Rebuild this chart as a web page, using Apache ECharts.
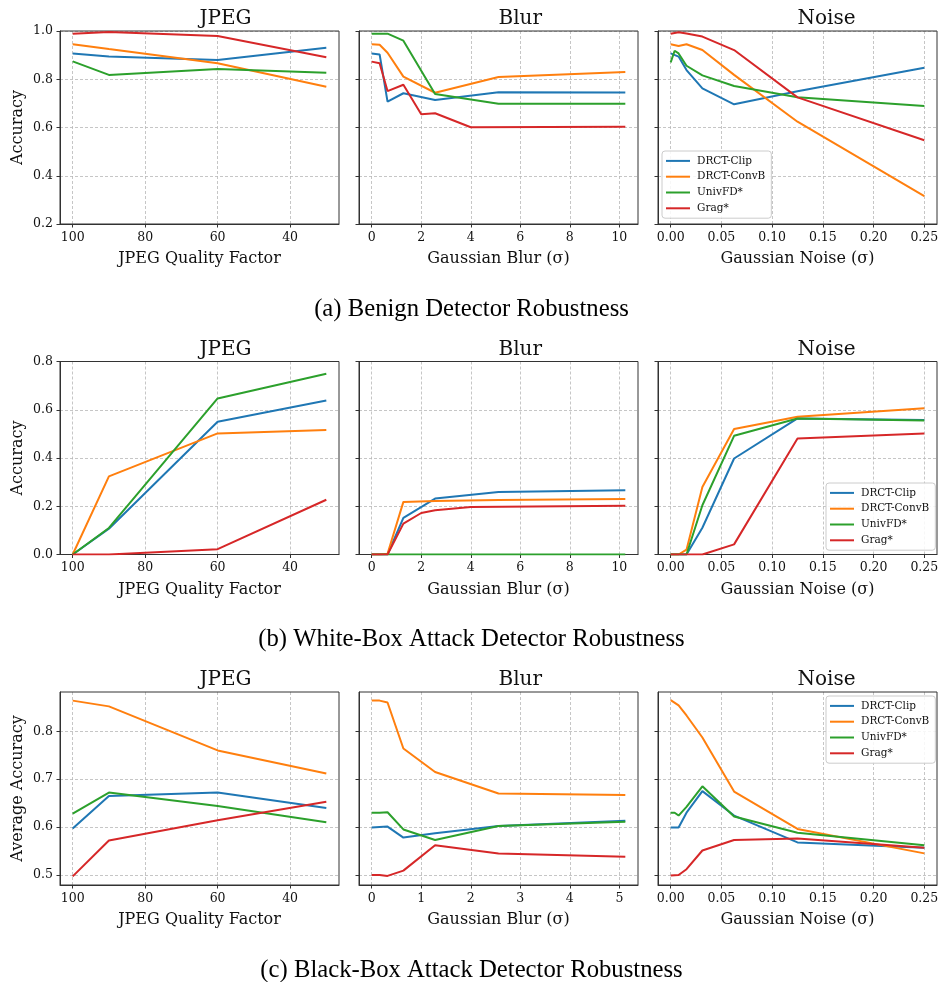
<!DOCTYPE html>
<html>
<head>
<meta charset="utf-8">
<script src="https://cdn.jsdelivr.net/npm/echarts@6/dist/echarts.min.js"></script>
<style>
  body { margin: 0; background: #fff; }
  #chart { width: 943px; height: 982px; }
</style>
</head>
<body>
<div id="chart"></div>
<script>
// detectors, in plotting order
const methods = ['DRCT-Clip', 'DRCT-ConvB', 'UnivFD*', 'Grag*'];
const colors = ['#1f77b4', '#ff7f0e', '#2ca02c', '#d62728'];

// x values of the perturbations
const jpegQuality = [100, 90, 60, 30];
const blurSigmaWide = [0, 0.32, 0.64, 1.28, 2, 2.56, 4, 5.12, 10.24];
const blurSigmaNarrow = [0, 0.16, 0.32, 0.64, 1.28, 2.56, 5.12];
const noiseSigma = [0, 0.0039, 0.0078, 0.0156, 0.03125, 0.0625, 0.125, 0.25];

// tick labels
const jpegTicks = [40, 60, 80, 100];
const blurTicksWide = [0, 2, 4, 6, 8, 10];
const blurTicksNarrow = [0, 1, 2, 3, 4, 5];
const noiseTicks = [0, 0.05, 0.1, 0.15, 0.2, 0.25];
const accTicksA = [0.2, 0.4, 0.6, 0.8, 1.0];
const accTicksB = [0, 0.2, 0.4, 0.6, 0.8];
const accTicksC = [0.5, 0.6, 0.7, 0.8];

// (a) benign
const benignJpeg = [
  [0.907, 0.894, 0.880, 0.931],
  [0.945, 0.925, 0.866, 0.769],
  [0.874, 0.818, 0.842, 0.827],
  [0.989, 0.996, 0.979, 0.891]
];
const benignBlur = [
  [0.907, 0.903, 0.707, 0.742, null, 0.714, null, 0.746, 0.745],
  [0.945, 0.943, 0.910, 0.811, null, 0.744, null, 0.809, 0.830],
  [0.989, 0.989, 0.989, 0.960, null, 0.739, null, 0.698, 0.698],
  [0.873, 0.866, 0.751, 0.777, 0.655, 0.659, 0.601, null, 0.603]
];
const benignNoise = [
  [0.907, null, 0.894, 0.838, 0.762, 0.696, 0.750, 0.848],
  [0.945, null, 0.938, 0.945, 0.921, 0.818, 0.624, 0.316],
  [0.870, 0.918, 0.907, 0.856, 0.816, 0.772, 0.725, 0.689],
  [0.989, null, 0.995, 0.990, 0.977, 0.921, 0.725, 0.547]
];

// (b) white-box attack
const whiteJpeg = [
  [0, 0.107, 0.550, 0.638],
  [0, 0.324, 0.502, 0.516],
  [0, 0.110, 0.647, 0.749],
  [0, 0, 0.022, 0.227]
];
const whiteBlur = [
  [0, 0, 0, 0.152, null, 0.232, null, 0.259, 0.266],
  [0, 0, 0.003, 0.218, null, 0.222, null, 0.226, 0.230],
  [0, 0, 0, 0, null, 0, null, 0, 0],
  [0, 0, 0, 0.128, 0.172, 0.183, 0.197, null, 0.202]
];
const whiteNoise = [
  [0, null, 0, 0, 0.111, 0.398, 0.564, 0.557],
  [0, null, 0, 0.020, 0.280, 0.520, 0.571, 0.606],
  [0, null, 0, 0, 0.204, 0.492, 0.564, 0.555],
  [0, null, 0, 0, 0, 0.042, 0.481, 0.502]
];

// (c) black-box attack
const blackJpeg = [
  [0.597, 0.665, 0.672, 0.640],
  [0.864, 0.852, 0.760, 0.712],
  [0.628, 0.672, 0.644, 0.610],
  [0.497, 0.572, 0.614, 0.653]
];
const blackBlur = [
  [0.599, 0.600, 0.601, 0.578, 0.587, 0.602, 0.613],
  [0.864, 0.864, 0.860, 0.764, 0.715, 0.670, 0.667],
  [0.630, 0.630, 0.631, 0.595, 0.573, 0.602, 0.611],
  [0.500, 0.500, 0.498, 0.509, 0.562, 0.545, 0.538]
];
const blackNoise = [
  [0.599, null, 0.599, 0.630, 0.675, 0.624, 0.568, 0.557],
  [0.865, null, 0.854, 0.833, 0.787, 0.674, 0.596, 0.545],
  [0.630, 0.630, 0.624, 0.642, 0.685, 0.622, 0.588, 0.562],
  [0.499, null, 0.500, 0.512, 0.551, 0.573, 0.576, 0.557]
];

const captions = [
  '(a) Benign Detector Robustness',
  '(b) White-Box Attack Detector Robustness',
  '(c) Black-Box Attack Detector Robustness'
];

// x axis kinds
const xKinds = {
  jpeg:  { min: 26.5, max: 103.5, inverse: true, ticks: jpegTicks, name: 'JPEG Quality Factor', fmt: v => String(v) },
  blurW: { min: -0.512, max: 10.752, ticks: blurTicksWide, name: 'Gaussian Blur (σ)', fmt: v => String(v) },
  blurN: { min: -0.256, max: 5.376, ticks: blurTicksNarrow, name: 'Gaussian Blur (σ)', fmt: v => String(v) },
  noise: { min: -0.0125, max: 0.2625, ticks: noiseTicks, name: 'Gaussian Noise (σ)', fmt: v => v.toFixed(2) }
};
const rowsY = [
  { min: 0.2, max: 1.0, ticks: accTicksA, name: 'Accuracy' },
  { min: 0, max: 0.8, ticks: accTicksB, name: 'Accuracy' },
  { min: 0.479, max: 0.882, ticks: accTicksC, name: 'Average Accuracy' }
];
const panels = [
  [{ t: 'JPEG', xs: jpegQuality, ys: benignJpeg, k: 'jpeg' },
   { t: 'Blur', xs: blurSigmaWide, ys: benignBlur, k: 'blurW' },
   { t: 'Noise', xs: noiseSigma, ys: benignNoise, k: 'noise' }],
  [{ t: 'JPEG', xs: jpegQuality, ys: whiteJpeg, k: 'jpeg' },
   { t: 'Blur', xs: blurSigmaWide, ys: whiteBlur, k: 'blurW' },
   { t: 'Noise', xs: noiseSigma, ys: whiteNoise, k: 'noise' }],
  [{ t: 'JPEG', xs: jpegQuality, ys: blackJpeg, k: 'jpeg' },
   { t: 'Blur', xs: blurSigmaNarrow, ys: blackBlur, k: 'blurN' },
   { t: 'Noise', xs: noiseSigma, ys: blackNoise, k: 'noise' }]
];
const legendPos = [[662, 151], [826, 483], [826, 696]];

// layout
const colLeft = [60, 359, 658];
const plotW = 279, plotH = 193;
const rowTop = [31, 361.5, 692];

const serif = 'DejaVu Serif';
const tickColor = '#333';
const gridLine = { show: true, lineStyle: { color: '#b8b8b8', type: [3, 2], width: 0.8 } };

const grids = [], xAxes = [], yAxes = [], series = [], graphics = [], legends = [];
let gi = 0;
panels.forEach((row, r) => {
  row.forEach((p, c) => {
    const xk = xKinds[p.k];
    const yk = rowsY[r];
    grids.push({
      left: colLeft[c], top: rowTop[r], width: plotW, height: plotH,
      show: false, containLabel: false
    });
    xAxes.push({
      gridIndex: gi, type: 'value', min: xk.min, max: xk.max, inverse: !!xk.inverse,
      name: xk.name, nameLocation: 'middle', nameGap: 27,
      nameTextStyle: { fontFamily: serif, fontSize: 16, color: '#111' },
      axisLine: { show: true, onZero: false, lineStyle: { color: tickColor } },
      axisTick: { show: true, length: 3.5, customValues: xk.ticks, lineStyle: { color: tickColor } },
      axisLabel: { customValues: xk.ticks, formatter: xk.fmt, margin: 7,
        fontFamily: serif, fontSize: 12.5, color: '#111' },
      splitLine: gridLine
    });
    yAxes.push({
      gridIndex: gi, type: 'value', min: yk.min, max: yk.max,
      name: c === 0 ? yk.name : '', nameLocation: 'middle', nameGap: 34,
      nameTextStyle: { fontFamily: serif, fontSize: 16, color: '#111' },
      axisLine: { show: true, onZero: false, lineStyle: { color: tickColor } },
      axisTick: { show: true, length: 3.5, customValues: yk.ticks, lineStyle: { color: tickColor } },
      axisLabel: { show: c === 0, customValues: yk.ticks, formatter: v => v.toFixed(1), margin: 7,
        fontFamily: serif, fontSize: 12.5, color: '#111' },
      splitLine: gridLine
    });
    p.ys.forEach((vals, m) => {
      series.push({
        type: 'line', name: methods[m], xAxisIndex: gi, yAxisIndex: gi,
        data: p.xs.map((x, i) => [x, vals[i]]).filter(d => d[1] !== null),
        showSymbol: false, symbol: 'none',
        lineStyle: { color: colors[m], width: 2 },
        itemStyle: { color: colors[m] }
      });
    });
    // axes frame: above the dashed grid, below the lines
    graphics.push({
      type: 'rect', z: 1, silent: true,
      shape: { x: colLeft[c], y: rowTop[r], width: plotW, height: plotH },
      style: { fill: null, stroke: tickColor, lineWidth: 1 }
    });
    graphics.push({
      type: 'text', left: colLeft[c] + plotW / 2, top: rowTop[r] - 22,
      style: { text: p.t, fontFamily: serif, fontSize: 20, fill: '#111', textAlign: 'center' }
    });
    gi++;
  });
  legends.push({
    orient: 'vertical', left: legendPos[r][0], top: legendPos[r][1], z: 60,
    data: methods, icon: 'rect', itemWidth: 24, itemHeight: 2, itemGap: 0,
    padding: [2, 6, 2, 4],
    borderColor: '#cccccc', borderWidth: 1, borderRadius: 3,
    backgroundColor: 'rgba(255,255,255,0.85)',
    selectedMode: false,
    textStyle: { fontFamily: serif, fontSize: 10.5, color: '#111', lineHeight: 15.8, padding: [0, 0, 0, 2] }
  });
  graphics.push({
    type: 'text', left: 'center', top: rowTop[r] + 266,
    style: { text: captions[r], fontFamily: 'Liberation Serif', fontSize: 24.7, fill: '#000' }
  });
});

const chart = echarts.init(document.getElementById('chart'), null, { renderer: 'canvas' });
chart.setOption({
  animation: false,
  backgroundColor: '#fff',
  grid: grids,
  xAxis: xAxes,
  yAxis: yAxes,
  legend: legends,
  series: series,
  graphic: graphics
});
</script>
</body>
</html>
